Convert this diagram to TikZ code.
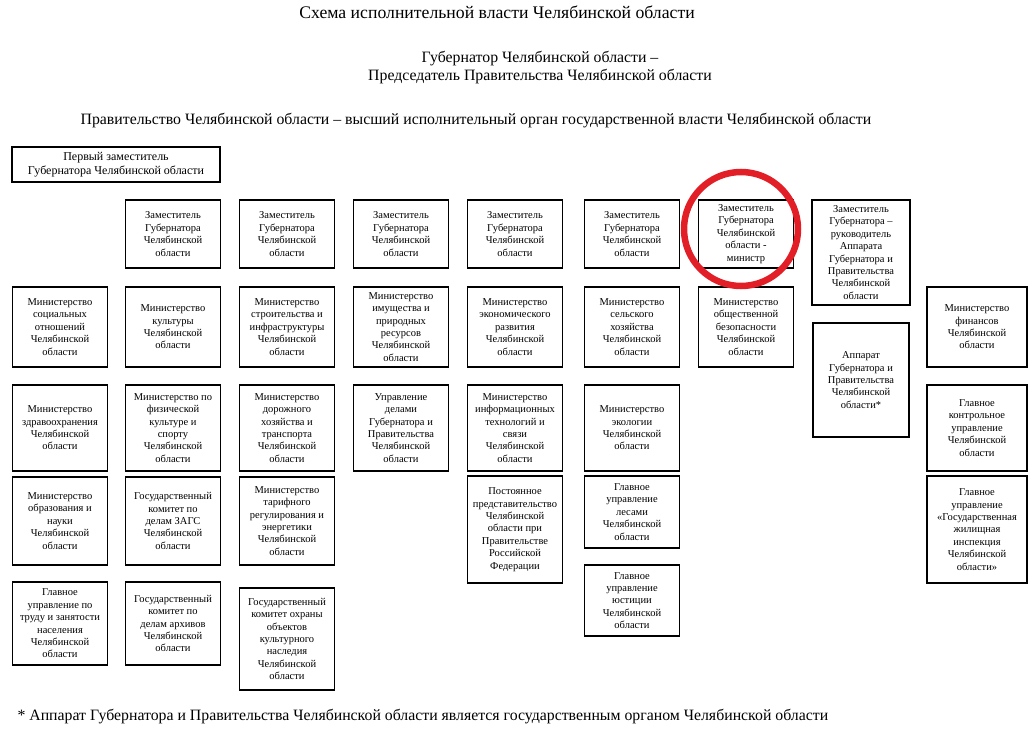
\documentclass[tikz,border=0pt]{standalone}
\usepackage{fontspec}
\setmainfont{Liberation Serif}
\definecolor{markred}{RGB}{226,30,38}

\begin{document}
\begin{tikzpicture}[
  x=1pt, y=-1pt,
  org/.style={draw, line width=1.2pt, minimum width=95pt, minimum height=#1,
              inner sep=1pt, align=center, font=\fontsize{10.5}{12.4}\selectfont},
  org/.default=80pt,
  head/.style={font=\fontsize{15.8}{18.5}\selectfont, align=center}
]
\useasboundingbox (0,0) rectangle (1034,731);

% headings
\node[font=\fontsize{17.7}{20}\selectfont] (title) at (497,12) {Схема исполнительной власти Челябинской области};
\node[head] (gov) at (540,67.5) {Губернатор Челябинской области –\\Председатель Правительства Челябинской области};
\node[head] (govt) at (476,121) {Правительство Челябинской области – высший исполнительный орган государственной власти Челябинской области};

% deputies
\node[org=35pt, minimum width=208pt, font=\fontsize{12}{13.5}\selectfont] (first) at (116,164.5)
  {Первый заместитель\\Губернатора Челябинской области};
\foreach \i/\x in {2/173, 3/287, 4/401, 5/515, 6/632}{
  \node[org=68pt] (dep\i) at (\x,234) {Заместитель\\Губернатора\\Челябинской\\области};
}
\node[org=68pt] (dep7) at (746,234) {Заместитель\\Губернатора\\Челябинской\\области -\\министр};
\node[org=105pt, minimum width=98pt] (dep8) at (861,252.5)
  {Заместитель\\Губернатора –\\руководитель\\Аппарата\\Губернатора и\\Правительства\\Челябинской\\области};

% row 2
\node[org] (msoc)  at (60,327)  {Министерство\\социальных\\отношений\\Челябинской\\области};
\node[org] (mcult) at (173,327) {Министерство\\культуры\\Челябинской\\области};
\node[org] (mstr)  at (287,327) {Министерство\\строительства и\\инфраструктуры\\Челябинской\\области};
\node[org] (mimu)  at (401,327) {Министерство\\имущества и\\природных\\ресурсов\\Челябинской\\области};
\node[org] (mecon) at (515,327) {Министерство\\экономического\\развития\\Челябинской\\области};
\node[org] (mselh) at (632,327) {Министерство\\сельского\\хозяйства\\Челябинской\\области};
\node[org] (mbez)  at (746,327) {Министерство\\общественной\\безопасности\\Челябинской\\области};
\node[org, minimum width=100pt] (mfin) at (977,327) {Министерство\\финансов\\Челябинской\\области};

% row 3
\node[org=86pt] (mzdr)  at (60,428)  {Министерство\\здравоохранения\\Челябинской\\области};
\node[org=86pt] (msport) at (173,428) {Министерство по\\физической\\культуре и\\спорту\\Челябинской\\области};
\node[org=86pt] (mdor)  at (287,428) {Министерство\\дорожного\\хозяйства и\\транспорта\\Челябинской\\области};
\node[org=86pt] (udel)  at (401,428) {Управление\\делами\\Губернатора и\\Правительства\\Челябинской\\области};
\node[org=86pt] (minf)  at (515,428) {Министерство\\информационных\\технологий и\\связи\\Челябинской\\области};
\node[org=86pt] (mekol) at (632,428) {Министерство\\экологии\\Челябинской\\области};
\node[org=114pt, minimum width=96pt] (appar) at (861,380) {Аппарат\\Губернатора и\\Правительства\\Челябинской\\области*};
\node[org=86pt, minimum width=100pt] (gku) at (977,428) {Главное\\контрольное\\управление\\Челябинской\\области};

% row 4
\node[org=88pt] (mobr)  at (60,521)  {Министерство\\образования и\\науки\\Челябинской\\области};
\node[org=88pt] (zags)  at (173,521) {Государственный\\комитет по\\делам ЗАГС\\Челябинской\\области};
\node[org=88pt] (mtar)  at (287,521) {Министерство\\тарифного\\регулирования и\\энергетики\\Челябинской\\области};
\node[org=107pt] (pred) at (515,529.5) {Постоянное\\представительство\\Челябинской\\области при\\Правительстве\\Российской\\Федерации};
\node[org=72pt] (gules) at (632,512) {Главное\\управление\\лесами\\Челябинской\\области};
\node[org=107pt, minimum width=100pt] (gzhi) at (977,529.5) {Главное\\управление\\«Государственная\\жилищная\\инспекция\\Челябинской\\области»};

% row 5
\node[org=83pt] (gutr)  at (60,623.5)  {Главное\\управление по\\труду и занятости\\населения\\Челябинской\\области};
\node[org=83pt] (arch)  at (173,623.5) {Государственный\\комитет по\\делам архивов\\Челябинской\\области};
\node[org=102pt] (okn)  at (287,639)   {Государственный\\комитет охраны\\объектов\\культурного\\наследия\\Челябинской\\области};
\node[org=71pt] (gujust) at (632,600.5) {Главное\\управление\\юстиции\\Челябинской\\области};

% footnote
\node[head, anchor=west] (note) at (14,717) {* Аппарат Губернатора и Правительства Челябинской области является государственным органом Челябинской области};

% red mark round dep7
\node[draw=markred, line width=6.5pt, circle, minimum size=114pt] (mark) at (741,229) {};
\end{tikzpicture}
\end{document}
